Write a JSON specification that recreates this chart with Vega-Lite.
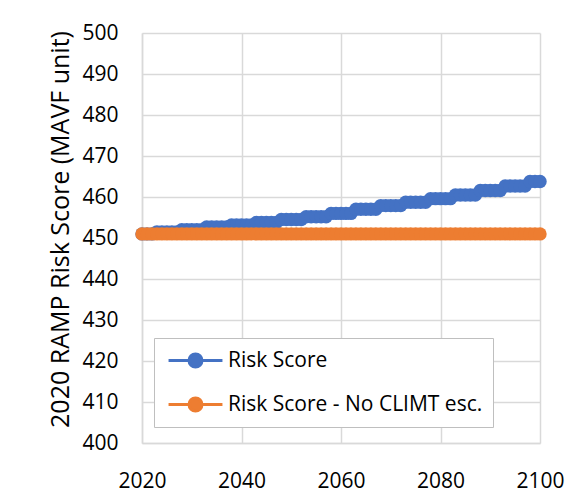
{
  "$schema": "https://vega.github.io/schema/vega-lite/v6.json",
  "width": 398,
  "height": 410,
  "autosize": {"type": "none"},
  "padding": {"left": 142, "top": 33, "right": 41, "bottom": 60},
  "background": "white",
  "config": {
    "font": "Open Sans",
    "view": {"stroke": null},
    "axis": {
      "labelFont": "Open Sans",
      "labelFontSize": 21,
      "labelColor": "#000000",
      "titleFont": "Open Sans",
      "titleFontSize": 25,
      "titleFontWeight": "normal",
      "titleColor": "#000000",
      "gridColor": "#d9d9d9",
      "gridWidth": 1.5,
      "domainColor": "#d9d9d9",
      "domainWidth": 1.5,
      "ticks": false
    }
  },
  "data": {
    "values": [
      {"year": 2020, "series": "Risk Score", "value": 451.0},
      {"year": 2021, "series": "Risk Score", "value": 451.0},
      {"year": 2022, "series": "Risk Score", "value": 451.0},
      {"year": 2023, "series": "Risk Score", "value": 451.5},
      {"year": 2024, "series": "Risk Score", "value": 451.5},
      {"year": 2025, "series": "Risk Score", "value": 451.5},
      {"year": 2026, "series": "Risk Score", "value": 451.5},
      {"year": 2027, "series": "Risk Score", "value": 451.5},
      {"year": 2028, "series": "Risk Score", "value": 452.0},
      {"year": 2029, "series": "Risk Score", "value": 452.0},
      {"year": 2030, "series": "Risk Score", "value": 452.0},
      {"year": 2031, "series": "Risk Score", "value": 452.0},
      {"year": 2032, "series": "Risk Score", "value": 452.0},
      {"year": 2033, "series": "Risk Score", "value": 452.7},
      {"year": 2034, "series": "Risk Score", "value": 452.7},
      {"year": 2035, "series": "Risk Score", "value": 452.7},
      {"year": 2036, "series": "Risk Score", "value": 452.7},
      {"year": 2037, "series": "Risk Score", "value": 452.7},
      {"year": 2038, "series": "Risk Score", "value": 453.2},
      {"year": 2039, "series": "Risk Score", "value": 453.2},
      {"year": 2040, "series": "Risk Score", "value": 453.2},
      {"year": 2041, "series": "Risk Score", "value": 453.2},
      {"year": 2042, "series": "Risk Score", "value": 453.2},
      {"year": 2043, "series": "Risk Score", "value": 453.8},
      {"year": 2044, "series": "Risk Score", "value": 453.8},
      {"year": 2045, "series": "Risk Score", "value": 453.8},
      {"year": 2046, "series": "Risk Score", "value": 453.8},
      {"year": 2047, "series": "Risk Score", "value": 453.8},
      {"year": 2048, "series": "Risk Score", "value": 454.5},
      {"year": 2049, "series": "Risk Score", "value": 454.5},
      {"year": 2050, "series": "Risk Score", "value": 454.5},
      {"year": 2051, "series": "Risk Score", "value": 454.5},
      {"year": 2052, "series": "Risk Score", "value": 454.5},
      {"year": 2053, "series": "Risk Score", "value": 455.2},
      {"year": 2054, "series": "Risk Score", "value": 455.2},
      {"year": 2055, "series": "Risk Score", "value": 455.2},
      {"year": 2056, "series": "Risk Score", "value": 455.2},
      {"year": 2057, "series": "Risk Score", "value": 455.2},
      {"year": 2058, "series": "Risk Score", "value": 456.0},
      {"year": 2059, "series": "Risk Score", "value": 456.0},
      {"year": 2060, "series": "Risk Score", "value": 456.0},
      {"year": 2061, "series": "Risk Score", "value": 456.0},
      {"year": 2062, "series": "Risk Score", "value": 456.0},
      {"year": 2063, "series": "Risk Score", "value": 457.0},
      {"year": 2064, "series": "Risk Score", "value": 457.0},
      {"year": 2065, "series": "Risk Score", "value": 457.0},
      {"year": 2066, "series": "Risk Score", "value": 457.0},
      {"year": 2067, "series": "Risk Score", "value": 457.0},
      {"year": 2068, "series": "Risk Score", "value": 457.9},
      {"year": 2069, "series": "Risk Score", "value": 457.9},
      {"year": 2070, "series": "Risk Score", "value": 457.9},
      {"year": 2071, "series": "Risk Score", "value": 457.9},
      {"year": 2072, "series": "Risk Score", "value": 457.9},
      {"year": 2073, "series": "Risk Score", "value": 458.7},
      {"year": 2074, "series": "Risk Score", "value": 458.7},
      {"year": 2075, "series": "Risk Score", "value": 458.7},
      {"year": 2076, "series": "Risk Score", "value": 458.7},
      {"year": 2077, "series": "Risk Score", "value": 458.7},
      {"year": 2078, "series": "Risk Score", "value": 459.6},
      {"year": 2079, "series": "Risk Score", "value": 459.6},
      {"year": 2080, "series": "Risk Score", "value": 459.6},
      {"year": 2081, "series": "Risk Score", "value": 459.6},
      {"year": 2082, "series": "Risk Score", "value": 459.6},
      {"year": 2083, "series": "Risk Score", "value": 460.5},
      {"year": 2084, "series": "Risk Score", "value": 460.5},
      {"year": 2085, "series": "Risk Score", "value": 460.5},
      {"year": 2086, "series": "Risk Score", "value": 460.5},
      {"year": 2087, "series": "Risk Score", "value": 460.5},
      {"year": 2088, "series": "Risk Score", "value": 461.6},
      {"year": 2089, "series": "Risk Score", "value": 461.6},
      {"year": 2090, "series": "Risk Score", "value": 461.6},
      {"year": 2091, "series": "Risk Score", "value": 461.6},
      {"year": 2092, "series": "Risk Score", "value": 461.6},
      {"year": 2093, "series": "Risk Score", "value": 462.7},
      {"year": 2094, "series": "Risk Score", "value": 462.7},
      {"year": 2095, "series": "Risk Score", "value": 462.7},
      {"year": 2096, "series": "Risk Score", "value": 462.7},
      {"year": 2097, "series": "Risk Score", "value": 462.7},
      {"year": 2098, "series": "Risk Score", "value": 463.8},
      {"year": 2099, "series": "Risk Score", "value": 463.8},
      {"year": 2100, "series": "Risk Score", "value": 463.8},
      {"year": 2020, "series": "Risk Score - No CLIMT esc.", "value": 451.0},
      {"year": 2021, "series": "Risk Score - No CLIMT esc.", "value": 451.0},
      {"year": 2022, "series": "Risk Score - No CLIMT esc.", "value": 451.0},
      {"year": 2023, "series": "Risk Score - No CLIMT esc.", "value": 451.0},
      {"year": 2024, "series": "Risk Score - No CLIMT esc.", "value": 451.0},
      {"year": 2025, "series": "Risk Score - No CLIMT esc.", "value": 451.0},
      {"year": 2026, "series": "Risk Score - No CLIMT esc.", "value": 451.0},
      {"year": 2027, "series": "Risk Score - No CLIMT esc.", "value": 451.0},
      {"year": 2028, "series": "Risk Score - No CLIMT esc.", "value": 451.0},
      {"year": 2029, "series": "Risk Score - No CLIMT esc.", "value": 451.0},
      {"year": 2030, "series": "Risk Score - No CLIMT esc.", "value": 451.0},
      {"year": 2031, "series": "Risk Score - No CLIMT esc.", "value": 451.0},
      {"year": 2032, "series": "Risk Score - No CLIMT esc.", "value": 451.0},
      {"year": 2033, "series": "Risk Score - No CLIMT esc.", "value": 451.0},
      {"year": 2034, "series": "Risk Score - No CLIMT esc.", "value": 451.0},
      {"year": 2035, "series": "Risk Score - No CLIMT esc.", "value": 451.0},
      {"year": 2036, "series": "Risk Score - No CLIMT esc.", "value": 451.0},
      {"year": 2037, "series": "Risk Score - No CLIMT esc.", "value": 451.0},
      {"year": 2038, "series": "Risk Score - No CLIMT esc.", "value": 451.0},
      {"year": 2039, "series": "Risk Score - No CLIMT esc.", "value": 451.0},
      {"year": 2040, "series": "Risk Score - No CLIMT esc.", "value": 451.0},
      {"year": 2041, "series": "Risk Score - No CLIMT esc.", "value": 451.0},
      {"year": 2042, "series": "Risk Score - No CLIMT esc.", "value": 451.0},
      {"year": 2043, "series": "Risk Score - No CLIMT esc.", "value": 451.0},
      {"year": 2044, "series": "Risk Score - No CLIMT esc.", "value": 451.0},
      {"year": 2045, "series": "Risk Score - No CLIMT esc.", "value": 451.0},
      {"year": 2046, "series": "Risk Score - No CLIMT esc.", "value": 451.0},
      {"year": 2047, "series": "Risk Score - No CLIMT esc.", "value": 451.0},
      {"year": 2048, "series": "Risk Score - No CLIMT esc.", "value": 451.0},
      {"year": 2049, "series": "Risk Score - No CLIMT esc.", "value": 451.0},
      {"year": 2050, "series": "Risk Score - No CLIMT esc.", "value": 451.0},
      {"year": 2051, "series": "Risk Score - No CLIMT esc.", "value": 451.0},
      {"year": 2052, "series": "Risk Score - No CLIMT esc.", "value": 451.0},
      {"year": 2053, "series": "Risk Score - No CLIMT esc.", "value": 451.0},
      {"year": 2054, "series": "Risk Score - No CLIMT esc.", "value": 451.0},
      {"year": 2055, "series": "Risk Score - No CLIMT esc.", "value": 451.0},
      {"year": 2056, "series": "Risk Score - No CLIMT esc.", "value": 451.0},
      {"year": 2057, "series": "Risk Score - No CLIMT esc.", "value": 451.0},
      {"year": 2058, "series": "Risk Score - No CLIMT esc.", "value": 451.0},
      {"year": 2059, "series": "Risk Score - No CLIMT esc.", "value": 451.0},
      {"year": 2060, "series": "Risk Score - No CLIMT esc.", "value": 451.0},
      {"year": 2061, "series": "Risk Score - No CLIMT esc.", "value": 451.0},
      {"year": 2062, "series": "Risk Score - No CLIMT esc.", "value": 451.0},
      {"year": 2063, "series": "Risk Score - No CLIMT esc.", "value": 451.0},
      {"year": 2064, "series": "Risk Score - No CLIMT esc.", "value": 451.0},
      {"year": 2065, "series": "Risk Score - No CLIMT esc.", "value": 451.0},
      {"year": 2066, "series": "Risk Score - No CLIMT esc.", "value": 451.0},
      {"year": 2067, "series": "Risk Score - No CLIMT esc.", "value": 451.0},
      {"year": 2068, "series": "Risk Score - No CLIMT esc.", "value": 451.0},
      {"year": 2069, "series": "Risk Score - No CLIMT esc.", "value": 451.0},
      {"year": 2070, "series": "Risk Score - No CLIMT esc.", "value": 451.0},
      {"year": 2071, "series": "Risk Score - No CLIMT esc.", "value": 451.0},
      {"year": 2072, "series": "Risk Score - No CLIMT esc.", "value": 451.0},
      {"year": 2073, "series": "Risk Score - No CLIMT esc.", "value": 451.0},
      {"year": 2074, "series": "Risk Score - No CLIMT esc.", "value": 451.0},
      {"year": 2075, "series": "Risk Score - No CLIMT esc.", "value": 451.0},
      {"year": 2076, "series": "Risk Score - No CLIMT esc.", "value": 451.0},
      {"year": 2077, "series": "Risk Score - No CLIMT esc.", "value": 451.0},
      {"year": 2078, "series": "Risk Score - No CLIMT esc.", "value": 451.0},
      {"year": 2079, "series": "Risk Score - No CLIMT esc.", "value": 451.0},
      {"year": 2080, "series": "Risk Score - No CLIMT esc.", "value": 451.0},
      {"year": 2081, "series": "Risk Score - No CLIMT esc.", "value": 451.0},
      {"year": 2082, "series": "Risk Score - No CLIMT esc.", "value": 451.0},
      {"year": 2083, "series": "Risk Score - No CLIMT esc.", "value": 451.0},
      {"year": 2084, "series": "Risk Score - No CLIMT esc.", "value": 451.0},
      {"year": 2085, "series": "Risk Score - No CLIMT esc.", "value": 451.0},
      {"year": 2086, "series": "Risk Score - No CLIMT esc.", "value": 451.0},
      {"year": 2087, "series": "Risk Score - No CLIMT esc.", "value": 451.0},
      {"year": 2088, "series": "Risk Score - No CLIMT esc.", "value": 451.0},
      {"year": 2089, "series": "Risk Score - No CLIMT esc.", "value": 451.0},
      {"year": 2090, "series": "Risk Score - No CLIMT esc.", "value": 451.0},
      {"year": 2091, "series": "Risk Score - No CLIMT esc.", "value": 451.0},
      {"year": 2092, "series": "Risk Score - No CLIMT esc.", "value": 451.0},
      {"year": 2093, "series": "Risk Score - No CLIMT esc.", "value": 451.0},
      {"year": 2094, "series": "Risk Score - No CLIMT esc.", "value": 451.0},
      {"year": 2095, "series": "Risk Score - No CLIMT esc.", "value": 451.0},
      {"year": 2096, "series": "Risk Score - No CLIMT esc.", "value": 451.0},
      {"year": 2097, "series": "Risk Score - No CLIMT esc.", "value": 451.0},
      {"year": 2098, "series": "Risk Score - No CLIMT esc.", "value": 451.0},
      {"year": 2099, "series": "Risk Score - No CLIMT esc.", "value": 451.0},
      {"year": 2100, "series": "Risk Score - No CLIMT esc.", "value": 451.0}
    ]
  },
  "encoding": {
    "x": {
      "field": "year",
      "type": "quantitative",
      "scale": {"domain": [2020, 2100], "nice": false, "zero": false},
      "axis": {"values": [2020, 2040, 2060, 2080, 2100], "format": "d", "title": null, "labelPadding": 27, "labelFlush": false}
    },
    "y": {
      "field": "value",
      "type": "quantitative",
      "scale": {"domain": [400, 500], "nice": false, "zero": false},
      "axis": {"values": [400, 410, 420, 430, 440, 450, 460, 470, 480, 490, 500], "title": "2020 RAMP Risk Score (MAVF unit)", "labelPadding": 24, "titlePadding": 8, "titleY": 196}
    },
    "color": {
      "field": "series",
      "type": "nominal",
      "scale": {"domain": ["Risk Score", "Risk Score - No CLIMT esc."], "range": ["#4472C4", "#ED7D31"]},
      "legend": {
        "title": null,
        "orient": "none",
        "legendX": 12,
        "legendY": 305,
        "direction": "vertical",
        "fillColor": "white",
        "strokeColor": "#bfbfbf",
        "padding": 10,
        "labelFont": "Open Sans",
        "labelFontSize": 21,
        "labelColor": "#000000",
        "labelLimit": 400,
        "rowPadding": 19,
        "symbolType": "M-2.45,0H2.45M-0.59,0A0.59,0.59,0,1,1,0.59,0A0.59,0.59,0,1,1,-0.59,0Z",
        "symbolSize": 484,
        "symbolStrokeWidth": 3,
        "symbolOffset": 19,
        "labelOffset": 20
      }
    }
  },
  "layer": [
    {"mark": {"type": "line", "strokeWidth": 3}},
    {"mark": {"type": "point", "filled": true, "opacity": 1, "size": 180}}
  ]
}
